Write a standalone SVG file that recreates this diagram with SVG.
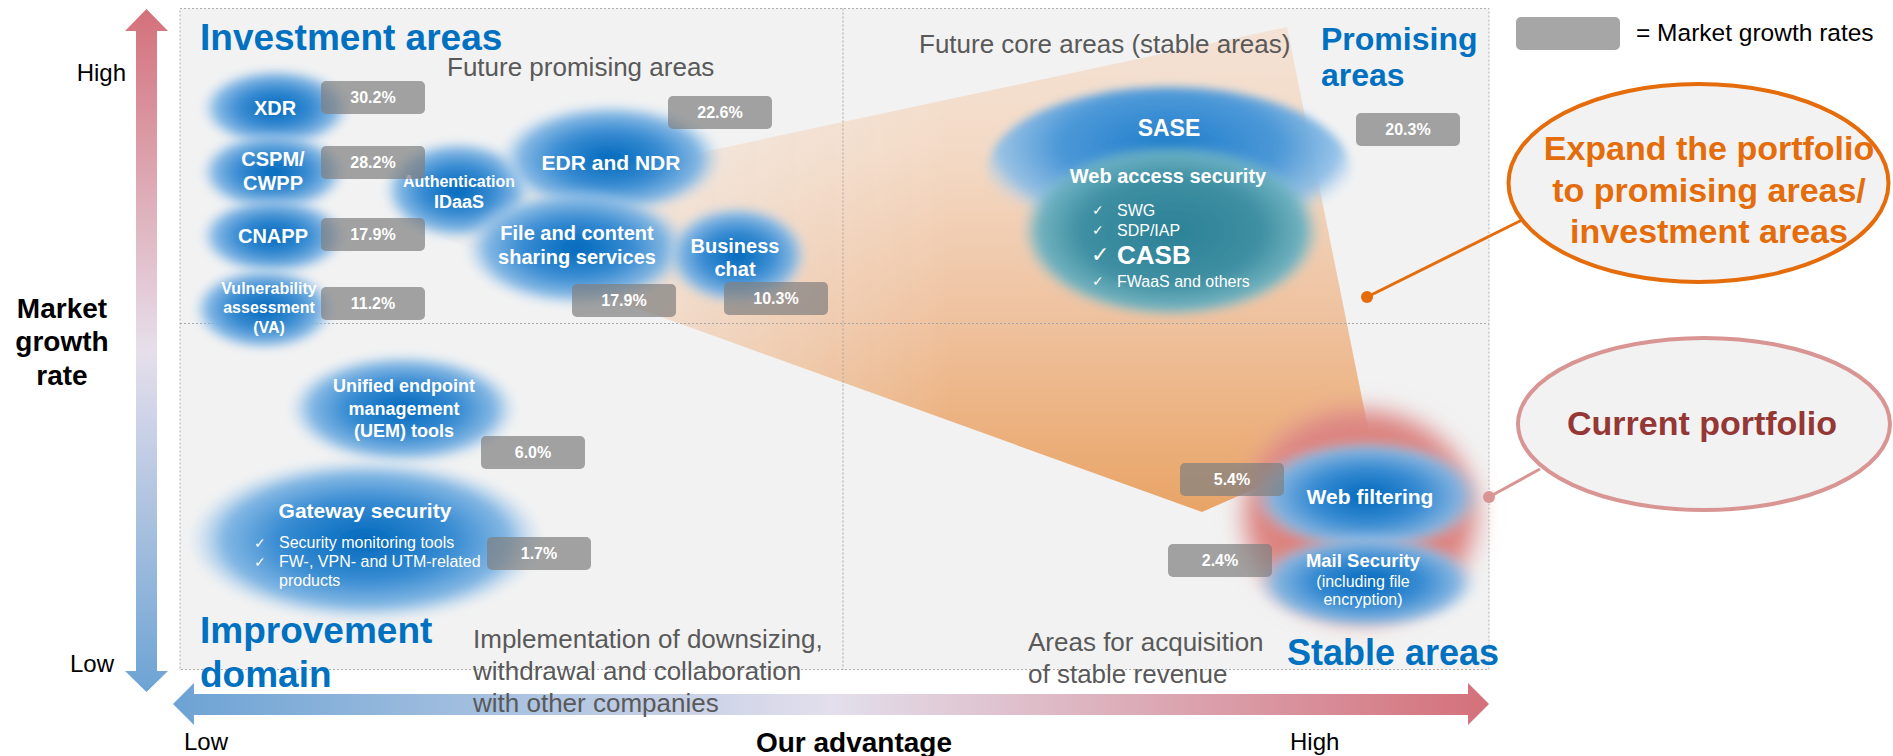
<svg xmlns="http://www.w3.org/2000/svg" width="1893" height="756" viewBox="0 0 1893 756">
<defs>
<style>
text{font-family:"Liberation Sans",Arial,sans-serif}
.gray{fill:#595959;font-size:26px}
.title{fill:#0070C0;font-weight:bold}
.axis{fill:#000;font-size:24px}
.axisb{fill:#000;font-size:28px;font-weight:bold}
.wb{fill:#fff;font-weight:bold;text-anchor:middle}
.w{fill:#fff}
.box{fill:#7F7F7F;fill-opacity:0.7}
.pct{fill:#fff;font-weight:bold;font-size:16px;text-anchor:middle}
.blob{fill:url(#gBlue);filter:url(#soft)}
</style>
<radialGradient id="gBlue" cx="0.5" cy="0.5" r="0.5">
<stop offset="0" stop-color="#0068BC"/>
<stop offset="0.5" stop-color="#3A8DD3"/>
<stop offset="0.8" stop-color="#7DB4E3" stop-opacity="0.95"/>
<stop offset="1" stop-color="#B5D5F0" stop-opacity="0"/>
</radialGradient>
<radialGradient id="gSase" cx="0.5" cy="0.35" r="0.55">
<stop offset="0" stop-color="#1F7ECB"/>
<stop offset="0.55" stop-color="#4C98D8"/>
<stop offset="0.85" stop-color="#8DBEE7" stop-opacity="0.9"/>
<stop offset="1" stop-color="#C4DDF2" stop-opacity="0"/>
</radialGradient>
<radialGradient id="gTeal" cx="0.5" cy="0.5" r="0.5">
<stop offset="0" stop-color="#2B8196"/>
<stop offset="0.6" stop-color="#3F8FA2"/>
<stop offset="0.88" stop-color="#6AB0C0" stop-opacity="0.95"/>
<stop offset="1" stop-color="#8EC4D0" stop-opacity="0"/>
</radialGradient>
<radialGradient id="gRed" cx="0.5" cy="0.5" r="0.5">
<stop offset="0" stop-color="#E07A6A"/>
<stop offset="0.8" stop-color="#DC8684"/>
<stop offset="1" stop-color="#E2A0A0" stop-opacity="0"/>
</radialGradient>
<linearGradient id="gOrange" gradientUnits="userSpaceOnUse" x1="0" y1="27" x2="0" y2="512">
<stop offset="0" stop-color="#F4E2D5"/>
<stop offset="0.25" stop-color="#F3DAC6"/>
<stop offset="0.6" stop-color="#EFC29F"/>
<stop offset="1" stop-color="#E9A466"/>
</linearGradient>
<linearGradient id="gFade" gradientUnits="userSpaceOnUse" x1="420" y1="0" x2="950" y2="0">
<stop offset="0" stop-color="#000"/>
<stop offset="0.45" stop-color="#777"/>
<stop offset="1" stop-color="#fff"/>
</linearGradient>
<mask id="fadeMask" maskUnits="userSpaceOnUse" x="0" y="0" width="1893" height="756">
<rect x="0" y="0" width="1893" height="756" fill="url(#gFade)"/>
</mask>
<linearGradient id="gV" gradientUnits="userSpaceOnUse" x1="0" y1="9" x2="0" y2="692">
<stop offset="0" stop-color="#D4707A"/>
<stop offset="0.5" stop-color="#E6DFEB"/>
<stop offset="1" stop-color="#6CA3D4"/>
</linearGradient>
<linearGradient id="gH" gradientUnits="userSpaceOnUse" x1="173" y1="0" x2="1489" y2="0">
<stop offset="0" stop-color="#6CA3D4"/>
<stop offset="0.5" stop-color="#E3DFEC"/>
<stop offset="1" stop-color="#D4707A"/>
</linearGradient>
<filter id="soft" x="-20%" y="-20%" width="140%" height="140%"><feGaussianBlur stdDeviation="4"/></filter>
<filter id="softR" x="-30%" y="-30%" width="160%" height="160%"><feGaussianBlur stdDeviation="9"/></filter>
</defs>

<g id="panel">
<rect x="180" y="8.5" width="1309" height="661" fill="#F2F2F2" stroke="#AEAEAE" stroke-width="1" stroke-dasharray="2 2"/>
</g>

<g id="expansion-shape">
<polygon points="390,219 1287,27 1370,438 1202,512" fill="url(#gOrange)" mask="url(#fadeMask)"/>
</g>

<g id="quadrant-lines" stroke="#A6A6A6" stroke-width="1" stroke-dasharray="2 2" fill="none">
<line x1="843" y1="8.5" x2="843" y2="669.5"/>
<line x1="180" y1="323.5" x2="1489" y2="323.5"/>
</g>

<g id="axes">
<path d="M146.5,9 L168,31 L157,31 L157,671 L168,671 L146.5,692 L125,671 L136,671 L136,31 L125,31 Z" fill="url(#gV)"/>
<path d="M173,704 L194,683 L194,694 L1468,694 L1468,683 L1489,704 L1468,725 L1468,715 L194,715 L194,725 Z" fill="url(#gH)"/>
<text class="axis" x="126" y="81" text-anchor="end">High</text>
<text class="axis" x="70" y="672">Low</text>
<text class="axis" x="184" y="750">Low</text>
<text class="axis" x="1290" y="750">High</text>
<text class="axisb" x="62" y="318" text-anchor="middle">Market</text>
<text class="axisb" x="62" y="351" text-anchor="middle">growth</text>
<text class="axisb" x="62" y="385" text-anchor="middle">rate</text>
<text class="axisb" x="854" y="752" text-anchor="middle" font-size="28.5">Our advantage</text>
</g>

<g id="quadrant-labels">
<text class="title" x="200" y="50" font-size="37">Investment areas</text>
<text class="gray" x="447" y="76">Future promising areas</text>
<text class="gray" x="919" y="53">Future core areas (stable areas)</text>
<text class="title" x="1321" y="50" font-size="32">Promising</text>
<text class="title" x="1321" y="86" font-size="32">areas</text>
<text class="title" x="200" y="643" font-size="37">Improvement</text>
<text class="title" x="200" y="687" font-size="37">domain</text>
<text class="gray" x="473" y="648">Implementation of downsizing,</text>
<text class="gray" x="473" y="680">withdrawal and collaboration</text>
<text class="gray" x="473" y="712">with other companies</text>
<text class="gray" x="1028" y="651">Areas for acquisition</text>
<text class="gray" x="1028" y="683">of stable revenue</text>
<text class="title" x="1287" y="665" font-size="36">Stable areas</text>
</g>

<g id="node-xdr">
<ellipse class="blob" cx="276" cy="108" rx="75" ry="40"/>
<text class="wb" x="275" y="115" font-size="20">XDR</text>
</g>
<g id="node-cspm">
<ellipse class="blob" cx="273" cy="172" rx="73" ry="40"/>
<text class="wb" x="273" y="166" font-size="20">CSPM/</text>
<text class="wb" x="273" y="190" font-size="20">CWPP</text>
</g>
<g id="node-cnapp">
<ellipse class="blob" cx="273" cy="236" rx="73" ry="39"/>
<text class="wb" x="273" y="243" font-size="20">CNAPP</text>
</g>
<g id="node-va">
<ellipse class="blob" cx="264" cy="309" rx="71" ry="42"/>
<text class="wb" x="269" y="294" font-size="16">Vulnerability</text>
<text class="wb" x="269" y="313" font-size="16">assessment</text>
<text class="wb" x="269" y="333" font-size="16">(VA)</text>
</g>
<g id="node-auth">
<ellipse class="blob" cx="458" cy="190" rx="75" ry="50"/>
<text class="wb" x="459" y="187" font-size="16">Authentication</text>
<text class="wb" x="459" y="208" font-size="18">IDaaS</text>
</g>
<g id="node-edr">
<ellipse class="blob" cx="610" cy="159" rx="112" ry="56"/>
<text class="wb" x="611" y="170" font-size="21">EDR and NDR</text>
</g>
<g id="node-file">
<ellipse class="blob" cx="577" cy="248" rx="113" ry="59"/>
<text class="wb" x="577" y="240" font-size="20">File and content</text>
<text class="wb" x="577" y="264" font-size="20">sharing services</text>
</g>
<g id="node-chat">
<ellipse class="blob" cx="737" cy="255" rx="71" ry="50"/>
<text class="wb" x="735" y="253" font-size="20">Business</text>
<text class="wb" x="735" y="276" font-size="20">chat</text>
</g>
<g id="node-uem">
<ellipse class="blob" cx="403" cy="409" rx="115" ry="56"/>
<text class="wb" x="404" y="392" font-size="18">Unified endpoint</text>
<text class="wb" x="404" y="415" font-size="18">management</text>
<text class="wb" x="404" y="437" font-size="18">(UEM) tools</text>
</g>
<g id="node-gateway">
<ellipse class="blob" cx="366" cy="540" rx="178" ry="82"/>
<text class="wb" x="365" y="518" font-size="21">Gateway security</text>
<text class="w" x="254" y="548" font-size="14">✓</text>
<text class="w" x="279" y="548" font-size="16">Security monitoring tools</text>
<text class="w" x="254" y="567" font-size="14">✓</text>
<text class="w" x="279" y="567" font-size="16">FW-, VPN- and UTM-related</text>
<text class="w" x="279" y="586" font-size="16">products</text>
</g>
<g id="node-sase">
<ellipse cx="1169" cy="171" rx="182" ry="84" fill="url(#gSase)" filter="url(#soft)"/>
<ellipse cx="1171" cy="231" rx="150" ry="87" fill="url(#gTeal)" filter="url(#soft)"/>
<text class="wb" x="1169" y="136" font-size="23">SASE</text>
<text class="wb" x="1168" y="183" font-size="20">Web access security</text>
<text class="w" x="1092" y="215" font-size="14">✓</text>
<text class="w" x="1117" y="216" font-size="16">SWG</text>
<text class="w" x="1092" y="235" font-size="14">✓</text>
<text class="w" x="1117" y="236" font-size="16">SDP/IAP</text>
<text class="w" x="1091" y="262" font-size="22">✓</text>
<text class="w" x="1117" y="264" font-size="26" font-weight="bold">CASB</text>
<text class="w" x="1092" y="286" font-size="14">✓</text>
<text class="w" x="1117" y="287" font-size="16">FWaaS and others</text>
</g>
<g id="node-current">
<ellipse cx="1360" cy="515" rx="130" ry="118" fill="url(#gRed)" filter="url(#softR)"/>
<ellipse class="blob" cx="1367" cy="496" rx="116" ry="57"/>
<ellipse class="blob" cx="1367" cy="582" rx="112" ry="48"/>
<text class="wb" x="1370" y="504" font-size="21">Web filtering</text>
<text class="wb" x="1363" y="567" font-size="18.5">Mail Security</text>
<text class="w" x="1363" y="587" font-size="16" text-anchor="middle">(including file</text>
<text class="w" x="1363" y="605" font-size="16" text-anchor="middle">encryption)</text>
</g>

<g id="growth-rates">
<rect class="box" x="321" y="81" width="104" height="33" rx="5"/><text class="pct" x="373" y="103">30.2%</text>
<rect class="box" x="321" y="146" width="104" height="33" rx="5"/><text class="pct" x="373" y="168">28.2%</text>
<rect class="box" x="321" y="218" width="104" height="33" rx="5"/><text class="pct" x="373" y="240">17.9%</text>
<rect class="box" x="321" y="287" width="104" height="33" rx="5"/><text class="pct" x="373" y="309">11.2%</text>
<rect class="box" x="668" y="96" width="104" height="33" rx="5"/><text class="pct" x="720" y="118">22.6%</text>
<rect class="box" x="572" y="284" width="104" height="33" rx="5"/><text class="pct" x="624" y="306">17.9%</text>
<rect class="box" x="724" y="282" width="104" height="33" rx="5"/><text class="pct" x="776" y="304">10.3%</text>
<rect class="box" x="1356" y="113" width="104" height="33" rx="5"/><text class="pct" x="1408" y="135">20.3%</text>
<rect class="box" x="481" y="436" width="104" height="33" rx="5"/><text class="pct" x="533" y="458">6.0%</text>
<rect class="box" x="487" y="537" width="104" height="33" rx="5"/><text class="pct" x="539" y="559">1.7%</text>
<rect class="box" x="1180" y="463" width="104" height="33" rx="5"/><text class="pct" x="1232" y="485">5.4%</text>
<rect class="box" x="1168" y="544" width="104" height="33" rx="5"/><text class="pct" x="1220" y="566">2.4%</text>
</g>

<g id="legend">
<rect x="1516" y="17" width="104" height="33" rx="5" fill="#A6A6A6"/>
<text x="1636" y="41" font-size="24.5" fill="#000">= Market growth rates</text>
</g>

<g id="connectors">
<line x1="1367" y1="297" x2="1524" y2="219" stroke="#E46C0A" stroke-width="3"/>
<circle cx="1367" cy="297" r="6" fill="#E46C0A"/>
<line x1="1489" y1="497" x2="1540" y2="469" stroke="#D99594" stroke-width="3"/>
<circle cx="1489" cy="497" r="6" fill="#D99594"/>
</g>

<g id="callout-expand">
<ellipse cx="1698.5" cy="183" rx="190" ry="99" fill="#F2F2F2" stroke="#E46C0A" stroke-width="4"/>
<text x="1709" y="160" font-size="34" font-weight="bold" fill="#E46C0A" text-anchor="middle">Expand the portfolio</text>
<text x="1709" y="202" font-size="34" font-weight="bold" fill="#E46C0A" text-anchor="middle">to promising areas/</text>
<text x="1709" y="243" font-size="34" font-weight="bold" fill="#E46C0A" text-anchor="middle">investment areas</text>
</g>

<g id="callout-current">
<ellipse cx="1704" cy="424" rx="186" ry="86" fill="#F2F2F2" stroke="#D99594" stroke-width="4"/>
<text x="1702" y="435" font-size="34" font-weight="bold" fill="#953735" text-anchor="middle">Current portfolio</text>
</g>
</svg>
